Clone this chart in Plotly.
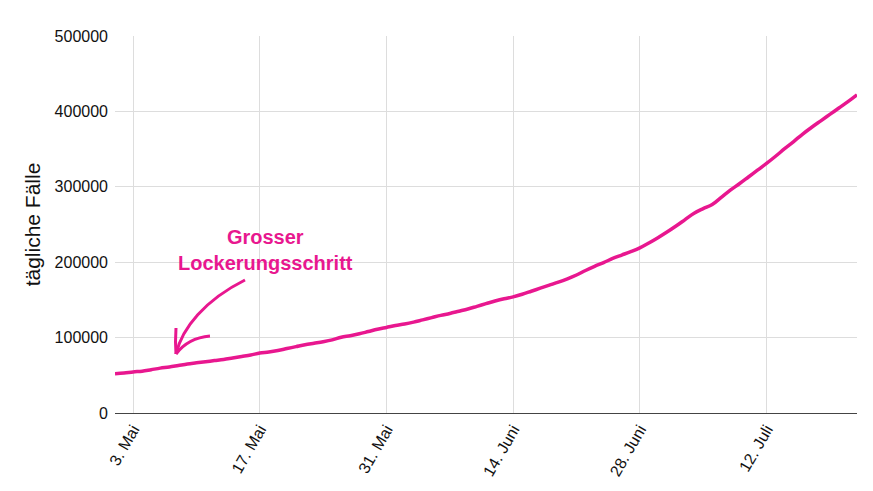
import plotly.graph_objects as go
import pandas as pd

dates = pd.date_range("2021-05-01", "2021-07-22", freq="D")
cases = [
    52000, 53000, 54500, 55500, 57500, 59500, 61000, 63000, 65000, 66500,
    68000, 69500, 71000, 73000, 75000, 77000, 79500, 81000, 83000, 85500,
    88000, 90500, 92500, 94500, 97000, 100500, 102500, 105000, 108000, 111000,
    113500,
    116000, 118000, 120500, 123500, 126500, 129500, 132000, 135000, 138000, 141500,
    145000, 148500, 151500, 154000, 157500, 161500, 165500, 169500, 173500, 178000,
    183000, 189000, 194500, 199500, 205000, 209500, 214000, 219000, 225500, 232500,
    240000, 248000, 256500, 265000, 271000, 276500, 286000, 295500, 304000, 313000,
    322000, 331000, 340500, 350500, 360000, 370000, 379000, 387500, 396000, 404500,
    413000, 422000,
]
tick_vals = ["2021-05-03", "2021-05-17", "2021-05-31", "2021-06-14", "2021-06-28", "2021-07-12"]
tick_text = ["3. Mai", "17. Mai", "31. Mai", "14. Juni", "28. Juni", "12. Juli"]
y_ticks = [0, 100000, 200000, 300000, 400000, 500000]

PINK = "#e8178f"
FONT = "Liberation Sans, Arial, sans-serif"

fig = go.Figure()
fig.add_trace(go.Scatter(x=dates, y=cases, mode="lines",
                         line=dict(color=PINK, width=3.5, shape="spline"),
                         showlegend=False))

# hand-drawn arrow (paper coords; plot area spans px 115..857, py 36..413)
def P(px, py):
    return (px - 115) / 742, (413 - py) / 377

def path(points, cmd):
    s = ""
    for c, (a, b) in zip(cmd, points):
        x, y = P(a, b)
        s += f"{c}{x:.4f},{y:.4f} "
    return s

shaft = path([(245, 280), (205, 300), (182, 328), (176, 354)], ["M", "C", "", ""])
left = path([(176, 328), (175, 342), (176, 354)], ["M", "Q", ""])
right = path([(210, 336), (188, 338), (176, 354)], ["M", "Q", ""])
for d in (shaft, left, right):
    fig.add_shape(type="path", path=d, xref="paper", yref="paper",
                  line=dict(color=PINK, width=3))

ax, ay = P(265, 250)
fig.add_annotation(x=ax, y=ay, xref="paper", yref="paper", xanchor="center", yanchor="middle",
                   text="<b>Grosser<br>Lockerungsschritt</b>", showarrow=False,
                   font=dict(family=FONT, size=20, color=PINK), align="center")

fig.update_layout(
    width=873, height=491,
    margin=dict(l=107, r=24, t=28, b=86),
    plot_bgcolor="white", paper_bgcolor="white",
    font=dict(family=FONT, size=16, color="#111111"),
    xaxis=dict(range=["2021-05-01", "2021-07-22"], tickvals=tick_vals, ticktext=tick_text,
               tickangle=-60, showgrid=True, gridcolor="#dddddd", gridwidth=1,
               showline=True, linecolor="#444444", linewidth=1,
               tickfont=dict(size=16, color="#111111"), ticks=""),
    yaxis=dict(range=[0, 500000], tickvals=y_ticks, tickformat="d",
               showgrid=True, gridcolor="#dddddd", zeroline=False, ticklabelstandoff=6,
               title=dict(text="tägliche Fälle", font=dict(size=21, color="#111111"), standoff=8),
               tickfont=dict(size=16, color="#111111"), ticks=""),
)

fig.write_html("out.html")
